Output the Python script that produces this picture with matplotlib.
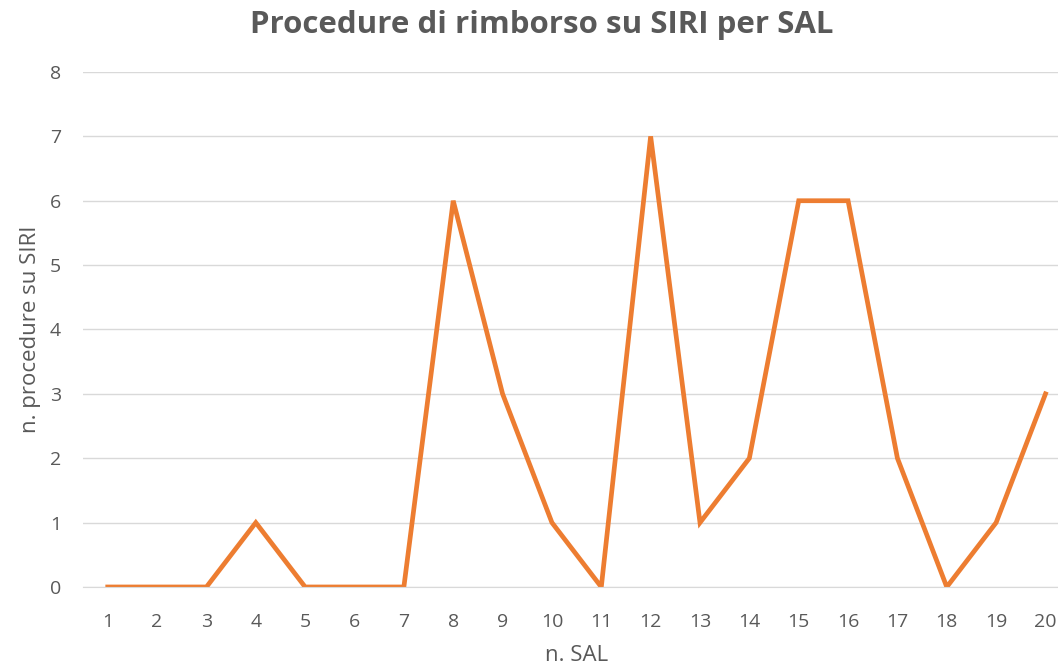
import matplotlib
matplotlib.use("Agg")
import matplotlib.pyplot as plt

plt.rcParams['font.family'] = ['Open Sans', 'DejaVu Sans']

sal = [str(i) for i in range(1, 21)]
procedure = [0, 0, 0, 1, 0, 0, 0, 6, 3, 1, 0, 7, 1, 2, 6, 6, 2, 0, 1, 3]

grey = '#595959'

fig = plt.figure(figsize=(10.58, 6.69), dpi=100)
ax = fig.add_axes([0.0785, 0.1226, 0.933, 0.7698])

x = list(range(len(sal)))
ax.plot(x, procedure, color='#ED7D31', linewidth=3.4, solid_joinstyle='miter')

ax.set_xlim(-0.5, len(sal) - 0.5)
ax.set_ylim(0, 8)
ax.set_xticks(x)
ax.set_xticklabels(sal)
ax.set_yticks(range(0, 9))
ax.grid(axis='y', color='#D9D9D9', linewidth=1)
ax.set_axisbelow(True)
for s in ['top', 'right', 'left']:
    ax.spines[s].set_visible(False)
ax.spines['bottom'].set_color('#D9D9D9')
ax.tick_params(length=0, labelsize=14, colors=grey)
ax.tick_params(axis='x', pad=19)
ax.tick_params(axis='y', pad=16)

ax.set_xlabel('n. SAL', fontsize=16, color=grey, labelpad=10)
ax.set_ylabel('n. procedure su SIRI', fontsize=16, color=grey, labelpad=6)
fig.text(0.512, 0.962, 'Procedure di rimborso su SIRI per SAL', fontsize=22.5,
         fontweight='bold', color=grey, ha='center', va='center')

fig.savefig('out.png', dpi=100)
